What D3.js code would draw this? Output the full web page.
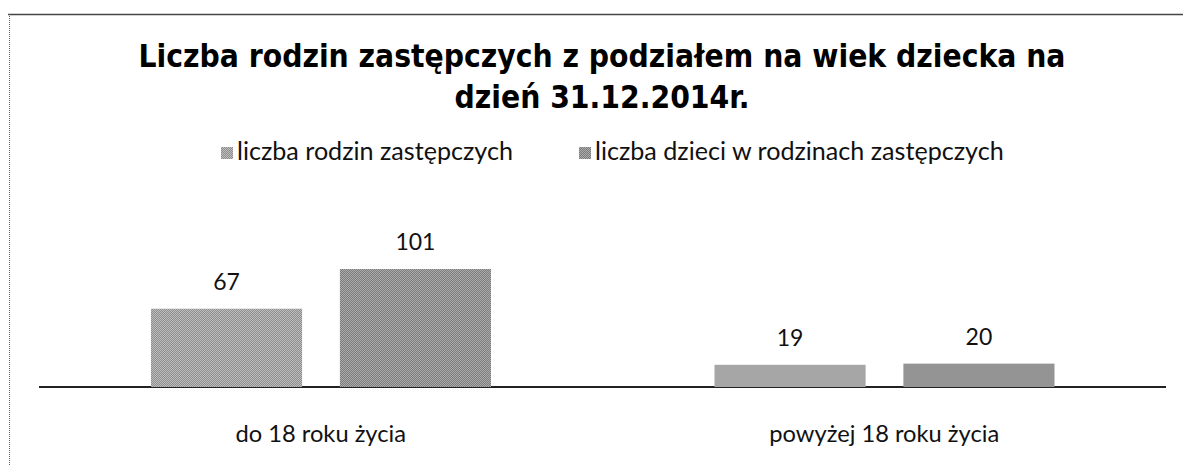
<!DOCTYPE html>
<html>
<head>
<meta charset="utf-8">
<script src="https://cdn.jsdelivr.net/npm/d3@7"></script>
<style>
body { margin: 0; background: #fff; }
svg { display: block; }
</style>
</head>
<body>
<svg id="chart" width="1183" height="465"></svg>
<script>
var categories = ["do 18 roku życia", "powyżej 18 roku życia"];
var seriesNames = ["liczba rodzin zastępczych", "liczba dzieci w rodzinach zastępczych"];
var rodziny = [67, 19];
var dzieci = [101, 20];
var titleLines = ["Liczba rodzin zastępczych z podziałem na wiek dziecka na", "dzień 31.12.2014r."];

var svg = d3.select("#chart");
var baseY = 387;

// frame (top solid, left dotted)
svg.append("line").attr("x1", 8).attr("x2", 1183).attr("y1", 14.5).attr("y2", 14.5)
	.attr("stroke", "#444").attr("stroke-width", 1.5);
svg.append("line").attr("x1", 9.5).attr("x2", 9.5).attr("y1", 14).attr("y2", 465)
	.attr("stroke", "#666").attr("stroke-width", 1).attr("stroke-dasharray", "1,1");

// textures for bars
var defs = svg.append("defs");
function addPattern(id, a, b) {
	var p = defs.append("pattern").attr("id", id).attr("width", 2).attr("height", 2)
		.attr("patternUnits", "userSpaceOnUse");
	p.append("rect").attr("width", 2).attr("height", 2).attr("fill", a);
	p.append("rect").attr("width", 1).attr("height", 1).attr("fill", b);
	p.append("rect").attr("x", 1).attr("y", 1).attr("width", 1).attr("height", 1).attr("fill", b);
}
addPattern("pat0", "#bdbdbd", "#8e8e8e");
addPattern("pat1", "#ababab", "#7c7c7c");

// title
var title = svg.append("g");
title.selectAll("text").data(titleLines).enter().append("text")
	.attr("x", 602)
	.attr("y", function(d, i) { return 67 + i * 41; })
	.attr("text-anchor", "middle")
	.attr("font-family", "DejaVu Sans Condensed, DejaVu Sans")
	.attr("font-weight", "bold")
	.attr("font-size", 30)
	.attr("fill", "#000")
	.text(function(d) { return d; });
var w0 = title.select("text").node().getComputedTextLength();
title.selectAll("text").attr("font-size", 30 * 927 / w0);

// legend
var legendX = [221, 579];
var legend = svg.selectAll("g.legend").data(seriesNames).enter().append("g")
	.attr("class", "legend")
	.attr("transform", function(d, i) { return "translate(" + legendX[i] + ",160)"; });
legend.append("rect").attr("x", 0).attr("y", -13).attr("width", 12).attr("height", 12)
	.attr("fill", function(d, i) { return "url(#pat" + i + ")"; });
legend.append("text").attr("x", 16).attr("y", 0)
	.attr("font-family", "Lato").attr("font-size", 20).attr("fill", "#111")
	.text(function(d) { return d; });
var lw = legend.select("text").node().getComputedTextLength();
legend.selectAll("text").attr("font-size", 20 * 276 / lw);

// scales
var x0 = d3.scaleBand().domain(categories).range([39, 1166]);
var x1 = d3.scaleBand().domain([0, 1]).range([112, 452]).paddingInner(0.2);
var y = d3.scaleLinear().domain([0, 101]).range([baseY, 269]);

var data = categories.map(function(c, i) {
	return { cat: c, values: [rodziny[i], dzieci[i]] };
});

// baseline
svg.append("line").attr("x1", x0.range()[0]).attr("x2", x0.range()[1])
	.attr("y1", baseY).attr("y2", baseY).attr("stroke", "#222").attr("stroke-width", 2);

var groups = svg.selectAll("g.grp").data(data).enter().append("g")
	.attr("class", "grp")
	.attr("transform", function(d) { return "translate(" + x0(d.cat) + ",0)"; });

var bars = groups.selectAll("g.bar").data(function(d) {
	return d.values.map(function(v, j) { return { v: v, s: j }; });
}).enter().append("g").attr("class", "bar");

bars.append("rect")
	.attr("x", function(d) { return x1(d.s); })
	.attr("y", function(d) { return y(d.v); })
	.attr("width", x1.bandwidth())
	.attr("height", function(d) { return baseY - y(d.v); })
	.attr("fill", function(d) { return "url(#pat" + d.s + ")"; });

bars.append("text")
	.attr("x", function(d) { return x1(d.s) + x1.bandwidth() / 2; })
	.attr("y", function(d) { return y(d.v) - 19; })
	.attr("text-anchor", "middle")
	.attr("font-family", "Lato").attr("font-size", 23).attr("fill", "#111")
	.text(function(d) { return d.v; });

// category labels
var cats = svg.selectAll("text.cat").data(categories).enter().append("text")
	.attr("class", "cat")
	.attr("x", function(d) { return x0(d) + x0.bandwidth() / 2; })
	.attr("y", 442)
	.attr("text-anchor", "middle")
	.attr("font-family", "Lato").attr("font-size", 22).attr("fill", "#111")
	.text(function(d) { return d; });
var cw = cats.nodes()[1].getComputedTextLength();
cats.attr("font-size", 22 * 230 / cw);
</script>
</body>
</html>
